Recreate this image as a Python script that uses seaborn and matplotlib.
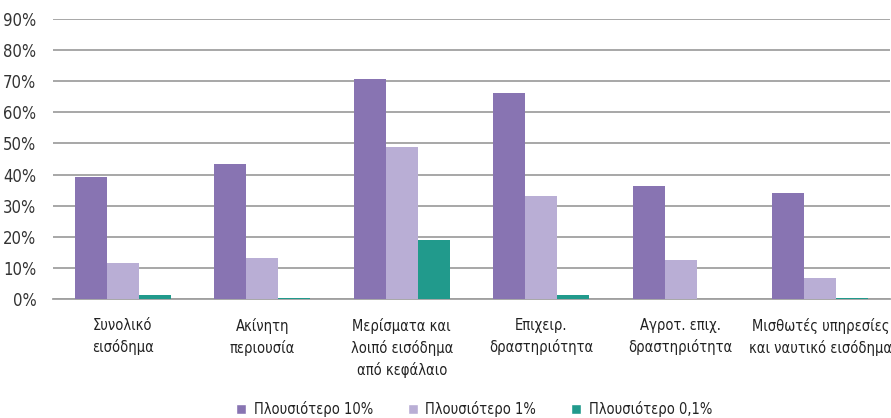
import numpy as np
import pandas as pd
import matplotlib
matplotlib.use("Agg")
import matplotlib.pyplot as plt
from matplotlib import font_manager
import seaborn as sns
from matplotlib.patches import Patch

categories = ["Συνολικό\nεισόδημα", "Ακίνητη\nπεριουσία", "Μερίσματα και\nλοιπό εισόδημα\nαπό κεφάλαιο",
              "Επιχειρ.\nδραστηριότητα", "Αγροτ. επιχ.\nδραστηριότητα", "Μισθωτές υπηρεσίες\nκαι ναυτικό εισόδημα"]
series = ["Πλουσιότερο 10%", "Πλουσιότερο 1%", "Πλουσιότερο 0,1%"]
top10 = [39.2, 43.4, 70.7, 66.2, 36.3, 34.1]
top1 = [11.6, 13.2, 48.9, 33.1, 12.5, 6.8]
top01 = [1.3, 0.4, 19.0, 1.3, 0.0, 0.3]
yticks = [0, 10, 20, 30, 40, 50, 60, 70, 80, 90]
colors = ["#8874B2", "#B9AED5", "#219A8C"]

df = pd.DataFrame({
    "cat": categories * 3,
    "series": np.repeat(series, len(categories)),
    "value": top10 + top1 + top01,
})

sns.set_style("white")

# look for a narrow font, the original uses a condensed face
narrow = None
for f in font_manager.fontManager.ttflist:
    if f.style != "normal" or f.weight not in (400, "normal", "regular"):
        continue
    if "Narrow" in f.name or "Condensed" in f.name or f.stretch in ("condensed", "semi-condensed"):
        narrow = f
        break

if narrow is not None:
    plt.rcParams["font.family"] = [narrow.name, "DejaVu Sans"]
    plt.rcParams["font.stretch"] = narrow.stretch
    fs, fs_small = 12, 10.5
else:
    plt.rcParams["font.family"] = ["DejaVu Sans"]
    fs, fs_small = 10, 9

fig = plt.figure(figsize=(8.91, 4.18), dpi=100)
ax = fig.add_axes([0.0595, 0.2847, 0.9395, 0.6698])

sns.barplot(data=df, x="cat", y="value", hue="series", palette=colors,
            width=0.69, gap=0, saturation=1, linewidth=0, legend=False, ax=ax, zorder=3)

ax.set_ylim(0, 90)
ax.set_xlim(-0.5, len(categories) - 0.5)
ax.set_yticks(yticks)
ax.set_yticklabels([f"{v}%" for v in yticks], fontsize=fs, color="#333333")
ax.yaxis.grid(True, color="#A0A0A0", linewidth=1.3, zorder=0)
ax.set_axisbelow(True)
ax.set_xlabel("")
ax.set_ylabel("")

ax.set_xticks(range(len(categories)))
ax.set_xticklabels(categories, fontsize=fs_small, color="#222222", linespacing=1.45)
ax.set_xticks(np.arange(-0.5, len(categories), 1), minor=True)
ax.tick_params(axis="x", which="major", length=0, pad=14)
ax.tick_params(axis="x", which="minor", length=7, color="#A0A0A0", width=1.2, direction="out")
ax.tick_params(axis="y", length=0, pad=12)

for s in ["top", "right", "left"]:
    ax.spines[s].set_visible(False)
ax.spines["bottom"].set_color("#A0A0A0")
ax.spines["bottom"].set_linewidth(1.3)

handles = [Patch(facecolor=c, label=s) for c, s in zip(colors, series)]
fig.legend(handles=handles, loc="lower center", bbox_to_anchor=(0.532, -0.03), ncol=3,
           frameon=False, fontsize=fs_small, handlelength=0.7, handleheight=0.7,
           handletextpad=0.5, columnspacing=2.4, labelcolor="#222222")

fig.savefig("out.png", dpi=100)
